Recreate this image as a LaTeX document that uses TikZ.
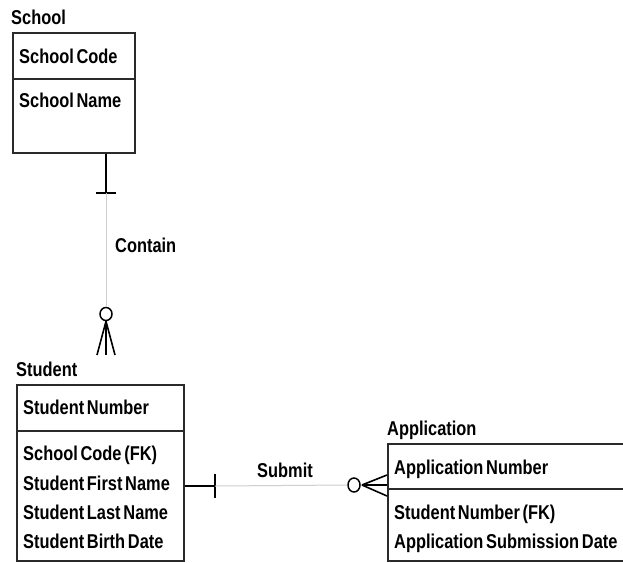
\documentclass[tikz,border=0pt]{standalone}
\usepackage{fontspec}
\setmainfont{Liberation Sans}[FakeStretch=0.82, WordSpace=0.6]
\usetikzlibrary{shapes.geometric}
\definecolor{boxcol}{HTML}{2A2A2A}
\definecolor{linegray}{HTML}{CFCFCF}
\tikzset{
  ebox/.style={draw=boxcol, line width=2pt, rectangle, inner sep=0pt, anchor=north west},
  divline/.style={draw=boxcol, line width=2pt},
  txt/.style={inner sep=0pt, anchor=base west, font=\bfseries\fontsize{20}{22}\selectfont, text=black},
  solidcon/.style={draw=black, line width=1.6pt},
  graycon/.style={draw=linegray, line width=1pt},
  optcircle/.style={draw=black, line width=1.5pt, ellipse, inner sep=0pt, fill=white},
}
\begin{document}
\begin{tikzpicture}[x=1pt,y=-1pt]
\useasboundingbox (0,0) rectangle (623,562);
\clip (0,0) rectangle (623,562);
\fill[white] (0,0) rectangle (623,562);

% School
\node[txt] (schoollbl) at (11,24) {School};
\node[ebox, minimum width=122, minimum height=120] (school) at (12,32) {};
\draw[divline] (school.west |- 0,79) -- (school.east |- 0,79);
\node[txt] (sc1) at (19,63) {School Code};
\node[txt] (sc2) at (19,107) {School Name};

% Student
\node[txt] (studentlbl) at (16,376) {Student};
\node[ebox, minimum width=167, minimum height=176] (student) at (16,384) {};
\draw[divline] (student.west |- 0,431) -- (student.east |- 0,431);
\node[txt] (st1) at (23,414) {Student Number};
\node[txt] (st2) at (23,460) {School Code (FK)};
\node[txt] (st3) at (23,490) {Student First Name};
\node[txt] (st4) at (23,519) {Student Last Name};
\node[txt] (st5) at (23,548) {Student Birth Date};

% Application
\node[txt] (applbl) at (387,435) {Application};
\node[ebox, minimum width=260, minimum height=117] (app) at (387,443) {};
\draw[divline] (app.west |- 0,489) -- (app.east |- 0,489);
\node[txt] (ap1) at (394,474) {Application Number};
\node[txt] (ap2) at (394,519) {Student Number (FK)};
\node[txt] (ap3) at (394,548) {Application Submission Date};

% Contain relationship
\coordinate (t1) at (106,193);
\node[optcircle, minimum width=12, minimum height=13] (o1) at (106,314) {};
\coordinate (f1) at (106,355);
\draw[solidcon] (school.south -| t1) -- (t1);
\draw[solidcon] ([xshift=-10pt]t1) -- ([xshift=10pt]t1);
\draw[graycon] (t1) -- (o1.north);
\draw[solidcon] (o1.south) -- (f1);
\draw[solidcon] (o1.south) -- ([xshift=-9pt]f1);
\draw[solidcon] (o1.south) -- ([xshift=9pt]f1);
\node[txt] (contain) at (115,252) {Contain};

% Submit relationship
\coordinate (t2) at (215,486);
\node[optcircle, minimum width=12, minimum height=14] (o2) at (354,485) {};
\coordinate (ap) at (362,485);
\draw[solidcon] (student.east |- t2) -- (t2);
\draw[solidcon] ([yshift=-12pt]t2) -- ([yshift=12pt]t2);
\draw[graycon] (t2) -- (o2.west);
\draw[solidcon] (ap) -- (app.west |- 0,475);
\draw[solidcon] (ap) -- (app.west |- 0,485);
\draw[solidcon] (ap) -- (app.west |- 0,496);
\node[txt] (submit) at (257,477) {Submit};
\end{tikzpicture}
\end{document}
